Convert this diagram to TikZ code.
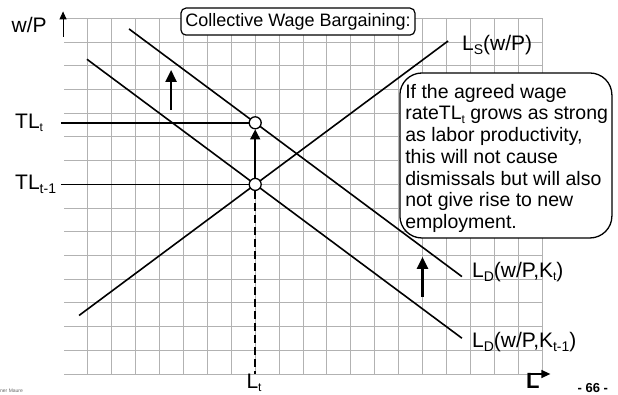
\documentclass[tikz,border=0pt]{standalone}
\usepackage{fontspec}
\setmainfont{Liberation Sans}
\usetikzlibrary{calc,positioning,arrows.meta}
\newcommand{\smallsub}[1]{\raisebox{-0.3ex}{\fontsize{12}{13}\selectfont #1}}
\newcommand{\labsub}[1]{\raisebox{-0.35ex}{\fontsize{14}{15}\selectfont #1}}
\tikzset{
  gridline/.style={color=black!30, line width=1pt},
  curve/.style={line width=1.6pt},
  shiftarrow/.style={line width=2.4pt, -{Triangle[length=12pt,width=11pt]}},
  eqpoint/.style={circle, draw, fill=white, line width=1.3pt, minimum size=12pt, inner sep=0pt},
  lbl/.style={font=\fontsize{21}{24}\selectfont, inner sep=0pt},
  titlebox/.style={draw, fill=white, rounded corners=5pt, line width=1.2pt, minimum width=234pt, minimum height=27pt, inner sep=0pt, font=\fontsize{18}{20}\selectfont},
  notebox/.style={draw, fill=white, rounded corners=22pt, line width=1.3pt, minimum width=212pt, minimum height=165pt},
  notetext/.style={font=\fontsize{19.5}{21.7}\selectfont, align=left, inner sep=0pt},
}
\begin{document}
\begin{tikzpicture}[x=23.9pt, y=23.7pt]
  \useasboundingbox (-64pt,-20pt) rectangle (554pt,374pt);
  %\draw[color=red,step=1, opacity=0.4] (0,0) grid (20,15); %help grid
  % grid
  \foreach \j in {0,...,15} \draw[gridline] (0,\j) -- (20,\j);
  \foreach \i in {1,...,20} \draw[gridline] (\i,0) -- (\i,15);
  % axes
  \coordinate (Ytail) at (-0.04,14.24);
  \coordinate (Ytip) at (-0.04,15.3);
  \coordinate (Xtail) at (19.4,0);
  \coordinate (Xtip) at (20.35,0);
  \draw[line width=1pt, -{Triangle[length=8pt,width=7pt]}] (Ytail) -- (Ytip);
  \draw[line width=1.4pt, -{Triangle[length=9pt,width=8pt]}] (Xtail) -- (Xtip);
  % supply and demand
  \coordinate (S0) at (0.63,2.47);
  \coordinate (S1) at (16.07,14.05);
  \coordinate (D0a) at (0.96,13.28);
  \coordinate (D0b) at (16.65,1.51);
  \coordinate (D1a) at (2.72,14.56);
  \coordinate (D1b) at (16.65,4.11);
  \draw[curve] (S0) -- (S1);
  \draw[curve] (D0a) -- (D0b);
  \draw[curve] (D1a) -- (D1b);
  % wage rates
  \coordinate (TLa) at (-0.13,10.6);
  \coordinate (TLb) at (-0.13,8);
  \coordinate (Lfoot) at (8,0);
  \node[eqpoint] (E0) at (8,8) {};
  \node[eqpoint] (E1) at (8,10.6) {};
  \draw[curve] (TLa) -- (E1);
  \draw[curve] (TLb) -- (E0);
  \draw[curve, -{Triangle[length=10pt,width=10pt]}] (E0) -- (E1);
  \draw[line width=1.6pt, dash pattern=on 8pt off 4pt] (E0) -- (Lfoot);
  % shifts
  \coordinate (A0) at (4.48,11.14);
  \coordinate (A1) at (4.48,12.83);
  \coordinate (B0) at (15,3.25);
  \coordinate (B1) at (15,4.94);
  \draw[shiftarrow] (A0) -- (A1);
  \draw[shiftarrow] (B0) -- (B1);
  % boxes
  \node[titlebox] (title) at (9.79,14.87) {Collective Wage Bargaining:};
  \node[notebox] (note) at (18.49,9.22) {};
  \node[notetext, anchor=north west] (notetxt) at (14.27,12.24) {If the agreed wage\\rateTL\smallsub{t} grows as strong\\as labor productivity,\\this will not cause\\dismissals but will also\\not give rise to new\\employment.};
  % labels
  \node[lbl] (wP) at (-1.46,14.73) {w/P};
  \node[lbl, anchor=west] (TLt) at (-2.05,10.6) {TL\smallsub{t}};
  \node[lbl, anchor=west] (TLt1) at (-2.05,8) {TL\labsub{t-1}};
  \node[lbl, anchor=west] (LS) at (16.65,13.88) {L\labsub{S}(w/P)};
  \node[lbl, anchor=west] (LD1) at (17.07,4.3) {L\labsub{D}(w/P,K\smallsub{t})};
  \node[lbl, anchor=west] (LD0) at (17.07,1.35) {L\labsub{D}(w/P,K\labsub{t-1})};
  \node[lbl] (Lt) at (7.95,-0.36) {L\smallsub{t}};
  \node[lbl, font=\fontsize{22}{24}\selectfont\bfseries] (Laxis) at (19.62,-0.28) {L};
  \node[font=\fontsize{13}{15}\selectfont\bfseries] (page) at (22.13,-0.59) {- 66 -};
  \node[anchor=west, font=\fontsize{5}{6}\selectfont, text=black!60, inner sep=0pt] (author) at (-2.68,-0.72) {ner Maure};
\end{tikzpicture}
\end{document}
